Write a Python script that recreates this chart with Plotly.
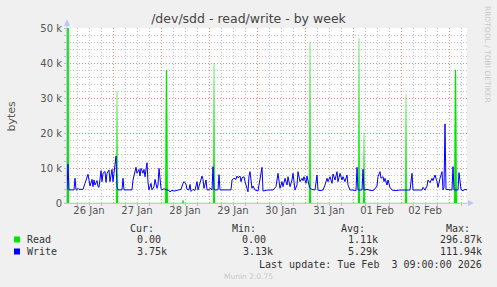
import plotly.graph_objects as go
import pandas as pd

# ---------------- data ----------------
BASE = pd.Timestamp("2026-01-26 00:00")
START_H, END_H = 1, 201          # 26 Jan 01:00 .. 03 Feb 09:00

# (hours since 26 Jan 00:00, bytes)
read_points = [
    (1, 0), (1.5, 296870), (2, 0), (25.5, 0), (26, 32000), (26.5, 0),
    (50, 0), (50.5, 38000), (51, 38000), (51.5, 0), (58.5, 0), (59, 900), (59.5, 0),
    (74, 0), (74.5, 40000), (75, 0), (122, 0), (122.5, 46000), (123, 0),
    (146.5, 0), (147, 47000), (147.5, 0), (149, 0), (149.5, 20000), (150, 0),
    (170, 0), (170.5, 31000), (171, 0), (194.5, 0), (195, 38000), (195.5, 38000),
    (196, 0), (201, 0),
]

# (hours since 26 Jan 00:00, kilobytes)
write_points = [
    (1, 3.75), (1.5, 11.1), (2, 3.75), (4.5, 3.75), (5, 7.05), (5.5, 3.75), (6, 3.75),
    (6.5, 4.2), (7, 3.9), (9, 3.9), (10, 5.6), (11, 7.05), (11.5, 8.2), (12.5, 4.86),
    (13.5, 6.76), (14, 4.67), (14.5, 6.57), (15, 5.14), (16, 6.4), (16.5, 4.67),
    (17, 4.5), (18, 9.24), (18.5, 6.1), (19, 8.5), (20, 9.0), (20.5, 5.9), (21, 8.5),
    (22, 9.43), (22.5, 6.1), (23.5, 9.6), (24, 6.1), (24.5, 8.5), (25, 11.8),
    (25.5, 13.4), (26, 4.67), (26.5, 3.75), (28.5, 3.75), (29, 7.05), (29.5, 3.75),
    (33.5, 3.75), (34, 6.57), (34.5, 7.7), (35.5, 10.2), (36, 8.5), (37, 9.6),
    (37.5, 7.7), (38, 9.9), (39, 8.5), (39.5, 9.6), (40, 7.5), (41, 11.5), (41.5, 5.9),
    (42, 3.75), (43, 5.6), (43.5, 3.75), (44.5, 4.67), (45, 6.76), (46, 4.2),
    (46.5, 5.14), (47, 9.9), (48, 4.2), (48.5, 3.75), (49.5, 4.1), (50.5, 3.75),
    (51.5, 3.75), (52.5, 3.2), (53.5, 3.6), (54.5, 3.4), (56.5, 3.6), (58, 3.9),
    (59, 5.6), (59.5, 6.1), (60.5, 5.4), (61, 3.9), (62, 3.75), (62.5, 5.3), (63, 3.3),
    (64, 3.9), (65, 3.6), (66, 6.1), (66.5, 3.75), (67.5, 5.6), (68.5, 7.7), (69, 6.76),
    (69.5, 4.2), (70.5, 6.57), (71, 3.75), (72, 3.75), (72.5, 4.2), (73.5, 3.75),
    (74, 10.4), (74.5, 3.75), (76.5, 3.75), (77, 8.1), (77.5, 3.75), (83, 3.75),
    (83.5, 6.57), (84.5, 7.05), (85.5, 6.76), (86, 7.7), (86.5, 7.2), (87.5, 7.7),
    (88, 6.1), (88.5, 7.2), (89.5, 7.5), (90, 6.1), (91.5, 3.2), (92, 7.7), (92.5, 8.95),
    (93.5, 4.2), (94, 4.86), (95, 3.71), (96.5, 3.43), (98.5, 10.2), (99, 3.43),
    (101.5, 3.71), (104, 3.71), (105.5, 4.67), (106.5, 8.48), (107.5, 4.2), (108.5, 6.1),
    (109, 4.67), (110, 7.05), (111, 5.14), (111.5, 7.52), (112.5, 4.67), (113.5, 6.57),
    (114, 8.48), (115, 3.71), (116, 5.14), (116.5, 8.95), (117.5, 6.1), (118.5, 7.05),
    (119, 6.38), (119.5, 7.52), (120.5, 5.62), (121, 7.71), (122, 5.14), (122.5, 4.2),
    (123.5, 3.9), (125, 3.71), (126, 7.99), (126.5, 3.71), (127.5, 3.52), (129, 3.71),
    (130, 5.14), (131, 7.05), (131.5, 6.1), (132.5, 7.52), (133.5, 5.62), (134, 8.29),
    (135, 6.57), (136, 8.95), (136.5, 6.1), (137.5, 8.48), (138.5, 6.57), (139, 7.52),
    (140, 6.1), (141, 7.99), (141.5, 5.14), (142.5, 3.71), (144, 3.71), (145.5, 3.52),
    (146, 10.2), (146.5, 3.71), (148.5, 3.71), (149, 9.62), (149.5, 3.71), (151, 3.9),
    (152, 3.71), (153.5, 3.52), (154.5, 3.71), (155, 4.2), (156, 4.86), (156.5, 7.52),
    (157.5, 8.95), (158, 7.05), (159, 7.52), (159.5, 6.1), (160, 7.05), (161, 5.14),
    (161.5, 6.57), (162.5, 4.48), (163.5, 3.71), (165, 3.52), (167.5, 3.71),
    (172.5, 3.71), (173.5, 8.48), (174, 3.71), (178.5, 3.71), (179, 4.48), (180, 3.71),
    (181, 4.86), (181.5, 6.57), (182.5, 5.81), (183.5, 7.05), (184, 6.38), (185, 7.99),
    (186, 6.1), (186.5, 4.48), (187.5, 7.05), (188.5, 8.95), (189, 3.71), (189.5, 4.48),
    (190, 22.6), (190.5, 3.9), (193.5, 3.71), (194, 10.4), (194.5, 3.71), (196.5, 3.71),
    (197, 8.67), (198, 3.9), (199, 3.52), (200, 3.9), (201, 3.75),
]

day_labels = ["26 Jan", "27 Jan", "28 Jan", "29 Jan", "30 Jan", "31 Jan", "01 Feb", "02 Feb"]
y_tick_vals = [0, 10000, 20000, 30000, 40000, 50000]
y_tick_text = ["0", "10 k", "20 k", "30 k", "40 k", "50 k"]

stat_headers = ["Cur:", "Min:", "Avg:", "Max:"]
read_stats = ["0.00", "0.00", "1.11k", "296.87k"]
write_stats = ["3.75k", "3.13k", "5.29k", "111.94k"]
series_names = ["Read", "Write"]
series_colors = ["#00e600", "#0000ff"]

# ---------------- build ----------------
def ts(h):
    return BASE + pd.Timedelta(hours=h)

read_x = [ts(h) for h, _ in read_points]
read_y = [v for _, v in read_points]
write_x = [ts(h) for h, _ in write_points]
write_y = [v * 1000 for _, v in write_points]

W, H = 497, 287
L, R, T, B = 67, 467, 28, 203


def px(x):
    return (x - L) / (R - L)


def py(y):
    return (B - y) / (B - T)


xr = [ts(START_H), ts(END_H)]

fig = go.Figure()
# Read: thin spikes, drawn as narrow filled triangles so they fade towards the tip
fig.add_trace(go.Scatter(x=read_x, y=read_y, mode="lines", name="Read",
                         line=dict(color=series_colors[0], width=0.3), fill="tozeroy",
                         fillcolor=series_colors[0], xaxis="x", yaxis="y",
                         hoverinfo="skip"))
fig.add_trace(go.Scatter(x=write_x, y=write_y, mode="lines", name="Write",
                         line=dict(color=series_colors[1], width=1), xaxis="x2", yaxis="y",
                         hoverinfo="skip"))

MAJ = "rgba(235,120,120,0.85)"
MIN = "#c8c8c8"
AX = "#c4c4f0"
DASH = "1px,2px"

fig.update_layout(
    width=W, height=H, autosize=False,
    margin=dict(l=L, r=W - R, t=T, b=H - B, pad=0),
    paper_bgcolor="#f0f0f0", plot_bgcolor="#ffffff",
    showlegend=False,
    title=dict(text="/dev/sdd - read/write - by week", x=0.5, xanchor="center",
               y=1 - 19 / H, yanchor="middle",
               font=dict(family="DejaVu Sans", size=12.5, color="#444")),
    xaxis=dict(type="date", range=xr, tick0="2026-01-26 00:00", dtick=86400000,
               showticklabels=False, ticks="", showgrid=True, gridcolor=MAJ,
               griddash=DASH, gridwidth=1, zeroline=False,
               showline=True, linecolor=AX, linewidth=1,
               minor=dict(dtick=21600000, tick0="2026-01-26 00:00", showgrid=True,
                          gridcolor=MIN, griddash=DASH, gridwidth=1,
                          ticks="outside", ticklen=2, tickcolor="#bbbbbb")),
    xaxis2=dict(type="date", range=xr, overlaying="x", side="bottom",
                tickmode="array", tickvals=[ts(12 + 24 * i) for i in range(len(day_labels))],
                ticktext=day_labels, ticks="", showgrid=False, zeroline=False, showline=False,
                tickfont=dict(family="DejaVu Sans", size=10, color="#555")),
    yaxis=dict(range=[0, 50000], tickmode="array", tickvals=y_tick_vals, ticktext=y_tick_text,
               showgrid=True, gridcolor=MAJ, griddash=DASH, gridwidth=1, zeroline=False,
               showline=True, linecolor=AX, linewidth=1, ticks="outside", ticklen=2,
               tickcolor="#bbbbbb",
               tickfont=dict(family="DejaVu Sans", size=10, color="#555"),
               minor=dict(dtick=2000, tick0=0, showgrid=True, gridcolor=MIN, griddash=DASH,
                          gridwidth=1, ticks="outside", ticklen=2, tickcolor="#bbbbbb")),
)

shapes = []
# axis arrows
shapes.append(dict(type="line", xref="paper", yref="paper", x0=px(67), x1=px(67),
                   y0=py(28), y1=py(22), line=dict(color=AX, width=1)))
shapes.append(dict(type="path", xref="paper", yref="paper",
                   path=f"M {px(64)},{py(26)} L {px(70)},{py(26)} L {px(67)},{py(19)} Z",
                   fillcolor=AX, line=dict(color=AX, width=0)))
shapes.append(dict(type="line", xref="paper", yref="paper", x0=px(467), x1=px(469),
                   y0=py(203), y1=py(203), line=dict(color=AX, width=1)))
shapes.append(dict(type="path", xref="paper", yref="paper",
                   path=f"M {px(468)},{py(200)} L {px(468)},{py(206)} L {px(474)},{py(203)} Z",
                   fillcolor=AX, line=dict(color=AX, width=0)))
# legend swatches
for i, c in enumerate(series_colors):
    yc = 239.5 + 12 * i
    shapes.append(dict(type="rect", xref="paper", yref="paper",
                       x0=px(14), x1=px(20), y0=py(yc - 3), y1=py(yc + 3),
                       fillcolor=c, line=dict(width=0)))
fig.update_layout(shapes=shapes)

MONO = dict(family="DejaVu Sans Mono", size=10, color="#333")
ann = []


def text(x, y, s, anchor="left", font=MONO, angle=0):
    ann.append(dict(xref="paper", yref="paper", x=px(x), y=py(y), text=s, showarrow=False,
                    xanchor=anchor, yanchor="middle", font=font, textangle=angle,
                    borderpad=0))


# y-axis title
text(11, 115.5, "bytes", anchor="center",
     font=dict(family="DejaVu Sans", size=11, color="#555"), angle=-90)
# rrdtool credit
text(488, 54, "RRDTOOL / TOBI OETIKER", anchor="center",
     font=dict(family="DejaVu Sans", size=7.5, color="#c8c8c8"), angle=90)

header_right = [155, 257, 366, 471]
value_right = [[162, 267, 378.5, 483], [168, 273.5, 378.5, 483]]
for hx, hs in zip(header_right, stat_headers):
    text(hx, 228, hs, anchor="right")
for i, (name, stats) in enumerate(zip(series_names, [read_stats, write_stats])):
    yrow = 239.5 + 12 * i
    text(26, yrow, name)
    for vx, vs in zip(value_right[i], stats):
        text(vx, yrow, vs, anchor="right")
text(483, 264, "Last update: Tue Feb  3 09:00:00 2026".replace("  ", "&nbsp; "), anchor="right")
text(248, 276, "Munin 2.0.75", anchor="center",
     font=dict(family="DejaVu Sans", size=7.5, color="#c8c8c8"))
fig.update_layout(annotations=ann)

fig.write_html("out.html")
